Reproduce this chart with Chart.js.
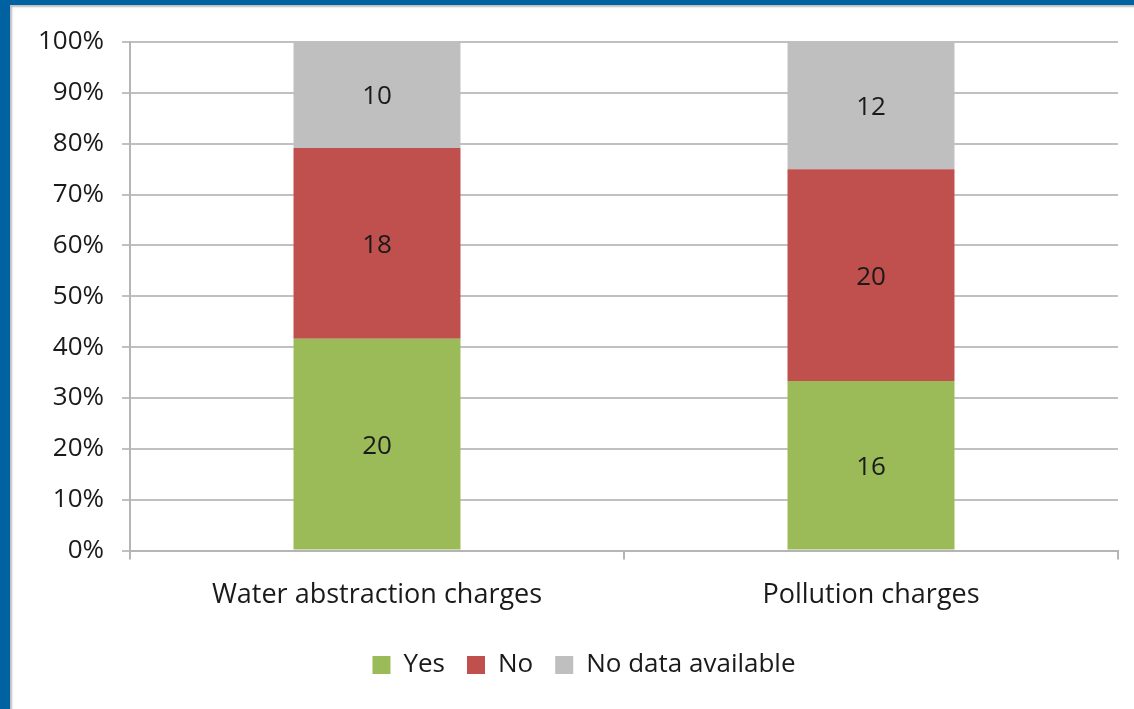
<!DOCTYPE html>
<html>
<head>
<meta charset="utf-8">
<script src="https://cdn.jsdelivr.net/npm/chart.js@4.4.1/dist/chart.umd.min.js"></script>
<style>
  html, body { margin: 0; padding: 0; background: #fff; }
  #frame {
    position: absolute; left: 0; top: 0; width: 1124px; height: 704px;
    border-left: 10px solid #0062a0; border-top: 5px solid #0062a0;
    box-shadow: inset 2px 2px 2px #bdbdbd;
  }
  #wrap { position: absolute; left: 0; top: 0; width: 1134px; height: 709px; }
</style>
</head>
<body>
<div id="frame"></div>
<div id="wrap"><canvas id="chart"></canvas></div>
<script>
const categories = ["Water abstraction charges", "Pollution charges"];
const yesCounts = [20, 16];
const noCounts = [18, 20];
const noDataCounts = [10, 12];
const seriesNames = ["Yes", "No", "No data available"];
const seriesColors = ["#9bbb59", "#c0504d", "#bfbfbf"];

// turn counts into shares of each column (100% stacked)
const totals = categories.map((c, i) => yesCounts[i] + noCounts[i] + noDataCounts[i]);
const toPct = arr => arr.map((v, i) => v / totals[i] * 100);
const counts = [yesCounts, noCounts, noDataCounts];

const textColor = "#1a1a1a";
const fontFamily = "'Open Sans', Lato, sans-serif";

// draw the raw counts in the middle of each segment
const segmentLabels = {
  id: "segmentLabels",
  afterDatasetsDraw(chart) {
    const ctx = chart.ctx;
    ctx.save();
    ctx.font = "26px " + fontFamily;
    ctx.fillStyle = textColor;
    ctx.textAlign = "center";
    ctx.textBaseline = "middle";
    chart.data.datasets.forEach((ds, di) => {
      chart.getDatasetMeta(di).data.forEach((bar, i) => {
        const p = bar.getCenterPoint();
        ctx.fillText(String(counts[di][i]), p.x, p.y + 2);
      });
    });
    ctx.restore();
  }
};

// legend sits a bit right of the canvas centre in the original
const legendShift = {
  id: "legendShift",
  afterLayout(chart) {
    const lg = chart.legend;
    lg.left += 25; lg.right += 25;
    lg.top -= 2; lg.bottom -= 2;
  }
};

new Chart(document.getElementById("chart"), {
  type: "bar",
  data: {
    labels: categories,
    datasets: seriesNames.map((name, k) => ({
      label: name,
      data: toPct(counts[k]),
      backgroundColor: seriesColors[k],
      borderWidth: 0,
      categoryPercentage: 1,
      barPercentage: 0.338
    }))
  },
  options: {
    responsive: true,
    maintainAspectRatio: false,
    animation: false,
    layout: { padding: { left: 0, right: 16, top: 42, bottom: 19 } },
    scales: {
      x: {
        stacked: true,
        grid: { display: true, drawOnChartArea: false, drawTicks: true, tickLength: 9, color: "#b5b5b5", lineWidth: 2, offset: true },
        border: { color: "#b5b5b5", width: 2 },
        ticks: { color: textColor, font: { family: fontFamily, size: 27 }, padding: 20, maxRotation: 0 }
      },
      y: {
        stacked: true,
        min: 0,
        max: 100,
        afterFit(scale) { scale.width = 130; },
        grid: { color: "#c0c0c0", lineWidth: 2, tickLength: 8 },
        border: { color: "#b5b5b5", width: 2 },
        ticks: {
          stepSize: 10,
          color: textColor,
          font: { family: fontFamily, size: 26 },
          padding: 18,
          callback: v => v + "%"
        }
      }
    },
    plugins: {
      legend: {
        position: "bottom",
        labels: {
          color: textColor,
          font: { family: fontFamily, size: 26 },
          boxWidth: 18,
          boxHeight: 18,
          padding: 22
        }
      },
      tooltip: { enabled: false }
    }
  },
  plugins: [segmentLabels, legendShift]
});
</script>
</body>
</html>
